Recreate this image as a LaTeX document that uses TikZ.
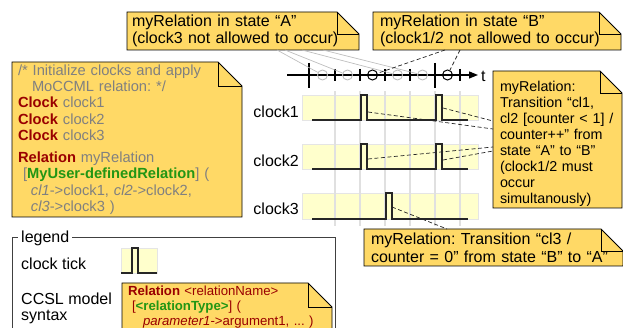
\documentclass[tikz,border=0pt]{standalone}
\usepackage{fontspec}
\setmainfont{Liberation Sans}
\usetikzlibrary{arrows.meta}
\definecolor{notefill}{RGB}{255,217,102}
\definecolor{bandfill}{RGB}{255,255,204}
\definecolor{gridc}{RGB}{224,224,224}
\definecolor{cgrey}{RGB}{128,128,128}
\definecolor{cred}{RGB}{153,0,0}
\definecolor{cgreen}{RGB}{34,150,20}
\definecolor{circgrey}{RGB}{190,190,190}
\pgfdeclarelayer{bg}
\pgfsetlayers{bg,main}
\frenchspacing
\newcommand\notebg[2]{%
 \begin{pgfonlayer}{bg}
 \filldraw[noteline,fill=notefill] (#1.north west) -- ([xshift=-#2]#1.north east) -- ([yshift=-#2]#1.north east) -- (#1.south east) -- (#1.south west) -- cycle;
 \draw[noteline] ([xshift=-#2]#1.north east) |- ([yshift=-#2]#1.north east);
 \end{pgfonlayer}}
\begin{document}
\frenchspacing
\begin{tikzpicture}[x=1pt,y=-1pt,
  noteline/.style={draw=black,line width=0.9pt,line join=miter},
  note/.style={anchor=north west,inner ysep=1pt,outer sep=0pt,align=left},
  greyl/.style={draw=circgrey,line width=0.7pt},
  dashl/.style={draw=black!85,line width=0.7pt,dash pattern=on 4pt off 2.5pt},
  sig/.style={draw=black!85,line width=1.3pt,line join=miter},
  band/.style={fill=bandfill,draw=black!10,line width=0.5pt},
  gridl/.style={draw=gridc,line width=1.3pt},
  tline/.style={draw=black,line width=1.2pt},
  gc/.style={circle,draw=circgrey,line width=0.9pt,minimum size=10pt,inner sep=0pt},
  kc/.style={circle,draw=black,line width=1pt,minimum size=10pt,inner sep=0pt},
  lbl/.style={anchor=base east,inner sep=0pt,font=\fontsize{16}{18}\selectfont},
  leglbl/.style={anchor=base west,inner sep=0pt,font=\fontsize{16}{18}\selectfont},
  legframe/.style={draw=black!75,line width=0.8pt}
]
\useasboundingbox (0,0) rectangle (623,328);

% ---- notes ----
\node[note,minimum width=232pt,minimum height=38pt,inner xsep=5pt,text width=222pt,
  font=\fontsize{16}{17.5}\selectfont\frenchspacing] (nA) at (127,12)
  {myRelation in state “A”\\(clock3 not allowed to occur)};
\notebg{nA}{22pt}

\node[note,minimum width=248pt,minimum height=38pt,inner xsep=7pt,text width=234pt,
  font=\fontsize{16}{17.5}\selectfont\frenchspacing] (nB) at (373,12)
  {myRelation in state “B”\\(clock1/2 not allowed to occur)};
\notebg{nB}{22pt}

\node[note,minimum width=230pt,minimum height=155pt,inner xsep=6pt,text width=218pt,
  text=cgrey,font=\fontsize{14.7}{16.3}\selectfont\frenchspacing] (nL) at (12,62)
  {/* Initialize clocks and apply\\
   \hspace*{14pt}MoCCML relation: */\\
   \textcolor{cred}{\bfseries Clock} clock1\\
   \textcolor{cred}{\bfseries Clock} clock2\\
   \textcolor{cred}{\bfseries Clock} clock3\\[6pt]
   \textcolor{cred}{\bfseries Relation} myRelation\\
   \hspace*{5pt}[\textcolor{cgreen}{\bfseries MyUser-definedRelation}] (\\
   \hspace*{13pt}\textit{cl1}->clock1, \textit{cl2}->clock2,\\
   \hspace*{13pt}\textit{cl3}->clock3 )};
\notebg{nL}{24pt}

\node[note,minimum width=129pt,minimum height=137pt,inner xsep=7pt,inner ysep=0pt,text width=115pt,
  font=\fontsize{14.3}{16}\selectfont\frenchspacing] (nR) at (493,71)
  {\rule{0pt}{19.5pt}myRelation:\\Transition “cl1,\\cl2 [counter < 1] /\\counter++” from\\state “A” to “B”\\(clock1/2 must\\occur\\simultanously)};
\notebg{nR}{22pt}

\node[note,minimum width=259pt,minimum height=37pt,inner xsep=7pt,text width=245pt,
  font=\fontsize{16}{18}\selectfont\frenchspacing] (nC) at (364,229)
  {myRelation: Transition “cl3 /\\counter = 0” from state “B” to “A”};
\notebg{nC}{22pt}

% ---- timeline ----
\coordinate (tl0) at (287,75);
\coordinate (tl1) at (478,75);
\draw[tline,-{Triangle[length=9pt,width=7pt]}] (tl0) -- (tl1);
\foreach \x in {335,360,385,410,460} \draw[tline] (\x,69) -- (\x,81);
\foreach \x in {309,435} \draw[tline] (\x,63) -- (\x,88);
\node[gc] (g1) at (322.5,75) {};
\node[gc] (g2) at (347.5,75) {};
\node[gc] (g3) at (397.5,75) {};
\node[gc] (g4) at (422.5,75) {};
\node[kc] (k1) at (372.5,75) {};
\node[kc] (k2) at (447.5,75) {};
\node[anchor=base west,inner sep=0pt,font=\fontsize{16}{18}\selectfont] (tlab) at (481,81.5) {t};

\draw[greyl] ([xshift=150pt]nA.south west) -- (g1);
\draw[greyl] ([xshift=158pt]nA.south west) -- (g2);
\draw[greyl] ([xshift=175pt]nA.south west) -- (g3);
\draw[greyl] ([xshift=196pt]nA.south west) -- (g4);
\draw[dashl] ([xshift=72pt]nB.south west) -- (k1);
\draw[dashl] ([xshift=87pt]nB.south west) -- (k2);

% ---- clock bands ----
\fill[band] (302,95) rectangle (478,120);
\fill[band] (302,144) rectangle (478,169);
\fill[band] (302,193) rectangle (478,219);
\foreach \x in {335,360,385,410,435,460} \draw[gridl] (\x,91) -- (\x,226);

\node[lbl] (c1) at (299,118) {clock1};
\node[lbl] (c2) at (299,167) {clock2};
\node[lbl] (c3) at (299,215) {clock3};

\draw[sig] (312,120) -- (361,120) -- (361,95) -- (367,95) -- (367,120) -- (436,120) -- (436,95) -- (442,95) -- (442,120) -- (468,120);
\draw[sig] (312,169) -- (361,169) -- (361,144) -- (367,144) -- (367,169) -- (436,169) -- (436,144) -- (442,144) -- (442,169) -- (468,169);
\draw[sig] (312,219) -- (386,219) -- (386,193) -- (392,193) -- (392,219) -- (468,219);

\coordinate (p11) at (368,112);
\coordinate (p12) at (443,108);
\coordinate (p21) at (368,159);
\coordinate (p22) at (443,160);
\coordinate (p3) at (392,207);
\draw[dashl] (p11) -- ([yshift=-58pt]nR.north west);
\draw[dashl] (p12) -- ([yshift=-50pt]nR.north west);
\draw[dashl] (p21) -- ([yshift=-76pt]nR.north west);
\draw[dashl] (p22) -- ([yshift=-80pt]nR.north west);
\draw[dashl] (p3) -- ([xshift=83pt]nC.north west);

% ---- legend ----
\draw[legframe] (12,237) rectangle (335,400);
\node[anchor=base west,fill=white,inner xsep=3pt,inner ysep=2pt,font=\fontsize{16}{18}\selectfont] (leg) at (18,243) {legend};
\node[leglbl] (lt) at (21,270) {clock tick};
\node[leglbl] (ls1) at (21,305) {CCSL model};
\node[leglbl] (ls2) at (21,320) {syntax};
\fill[band] (121,248) rectangle (157,273);
\draw[sig] (121,273) -- (132,273) -- (132,248) -- (138,248) -- (138,273) -- (157,273);

\node[note,minimum width=210pt,minimum height=48pt,inner xsep=6pt,text width=198pt,
  text=cred,font=\fontsize{13.2}{15}\selectfont\frenchspacing] (nLeg) at (122,283)
  {\textbf{Relation} <relationName>\\
   \hspace*{4pt}[\textcolor{cgreen}{\bfseries <relationType>}] (\\
   \hspace*{15pt}\textit{parameter1}->argument1, ... )};
\notebg{nLeg}{24pt}
\end{tikzpicture}
\end{document}
